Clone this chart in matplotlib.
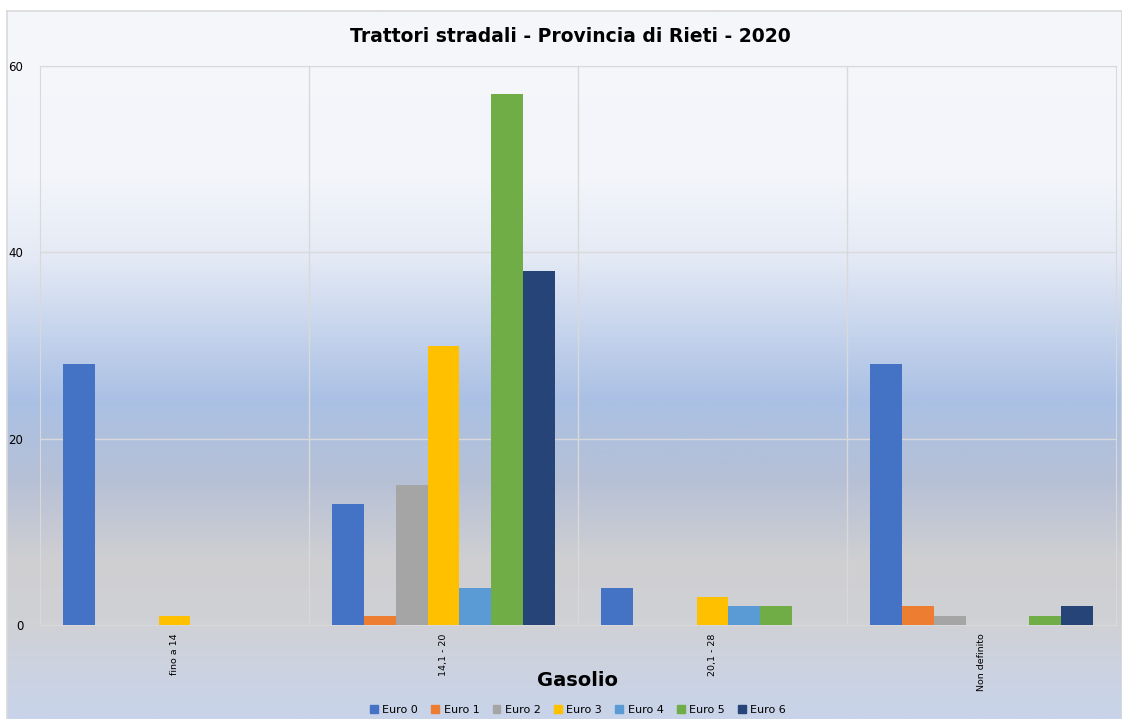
import numpy as np
import matplotlib
matplotlib.use('Agg')
import matplotlib.pyplot as plt
from matplotlib.colors import LinearSegmentedColormap
from matplotlib.patches import Patch

# dati
categorie = ['fino a 14', '14,1 - 20', '20,1 - 28', 'Non definito']
serie = ['Euro 0', 'Euro 1', 'Euro 2', 'Euro 3', 'Euro 4', 'Euro 5', 'Euro 6']
euro0 = [28, 13, 4, 28]
euro1 = [0, 1, 0, 2]
euro2 = [0, 15, 0, 1]
euro3 = [1, 30, 3, 0]
euro4 = [0, 4, 2, 0]
euro5 = [0, 57, 2, 1]
euro6 = [0, 38, 0, 2]
valori = [euro0, euro1, euro2, euro3, euro4, euro5, euro6]
colori = ['#4472C4', '#ED7D31', '#A5A5A5', '#FFC000', '#5B9BD5', '#70AD47', '#264478']

W, H = 1122, 719
fig = plt.figure(figsize=(W / 100, H / 100), dpi=100)
fig.patch.set_facecolor('white')

# sfondo sfumato dell'area grafico
bg = fig.add_axes([7 / W, 0, 1 - 7 / W, 1 - 11 / H])
stops = [(11, '#f6f7fb'), (180, '#f3f5fa'), (260, '#e3e9f5'), (400, '#aac0e4'),
         (480, '#b6c0d6'), (560, '#cfcfd2'), (620, '#d0d1d5'), (719, '#c8d4ea')]
pos = [(719 - y) / (719 - 11) for y, _ in stops][::-1]
cols = [c for _, c in stops][::-1]
cmap = LinearSegmentedColormap.from_list('bg', list(zip(pos, cols)))
grad = np.linspace(0, 1, 512).reshape(-1, 1)
bg.imshow(grad, aspect='auto', cmap=cmap, origin='lower', extent=[0, 1, 0, 1])
bg.set_axis_off()
bg.plot([0, 1, 1], [1, 1, 0], color='#d9d9d9', lw=1.2, transform=bg.transAxes, clip_on=False)
bg.plot([0, 0], [0, 1], color='#d9d9d9', lw=1.2, transform=bg.transAxes, clip_on=False)

ax = fig.add_axes([40 / W, 1 - 625 / H, (1116 - 40) / W, (625 - 66) / H])
ax.set_facecolor('none')

x = np.arange(len(categorie))
w = 0.118
for i, (nome, v) in enumerate(zip(serie, valori)):
    ax.bar(x + (i - 3) * w, v, width=w, color=colori[i], label=nome, zorder=3)

ax.set_xlim(-0.5, 3.5)
ax.set_ylim(0, 60)
ax.set_yticks([0, 20, 40, 60])
ax.set_xticks(x)
ax.set_xticklabels(categorie, rotation=90, fontsize=6.8)
ax.set_xticks([0.5, 1.5, 2.5], minor=True)
ax.tick_params(axis='both', which='both', length=0)
ax.tick_params(axis='y', labelsize=8.5, pad=12)
ax.tick_params(axis='x', pad=6)
ax.grid(axis='y', color='#d9d9d9', lw=1, zorder=0)
ax.grid(axis='x', which='minor', color='#d9d9d9', lw=1, zorder=0)
for s in ax.spines.values():
    s.set_color('#d9d9d9')

fig.text(570 / W, 1 - 37 / H, 'Trattori stradali - Provincia di Rieti - 2020',
         ha='center', va='center', fontsize=13.5, fontweight='heavy')
fig.text(578 / W, 1 - 681 / H, 'Gasolio', ha='center', va='center',
         fontsize=14, fontweight='heavy')

handles = [Patch(color=c, label=n) for c, n in zip(colori, serie)]
fig.legend(handles=handles, loc='center', bbox_to_anchor=(578 / W, 1 - 710 / H),
           ncol=7, frameon=False, fontsize=8, handlelength=0.7, handleheight=0.7,
           columnspacing=1.2, handletextpad=0.4)

fig.savefig('out.png', dpi=100)
